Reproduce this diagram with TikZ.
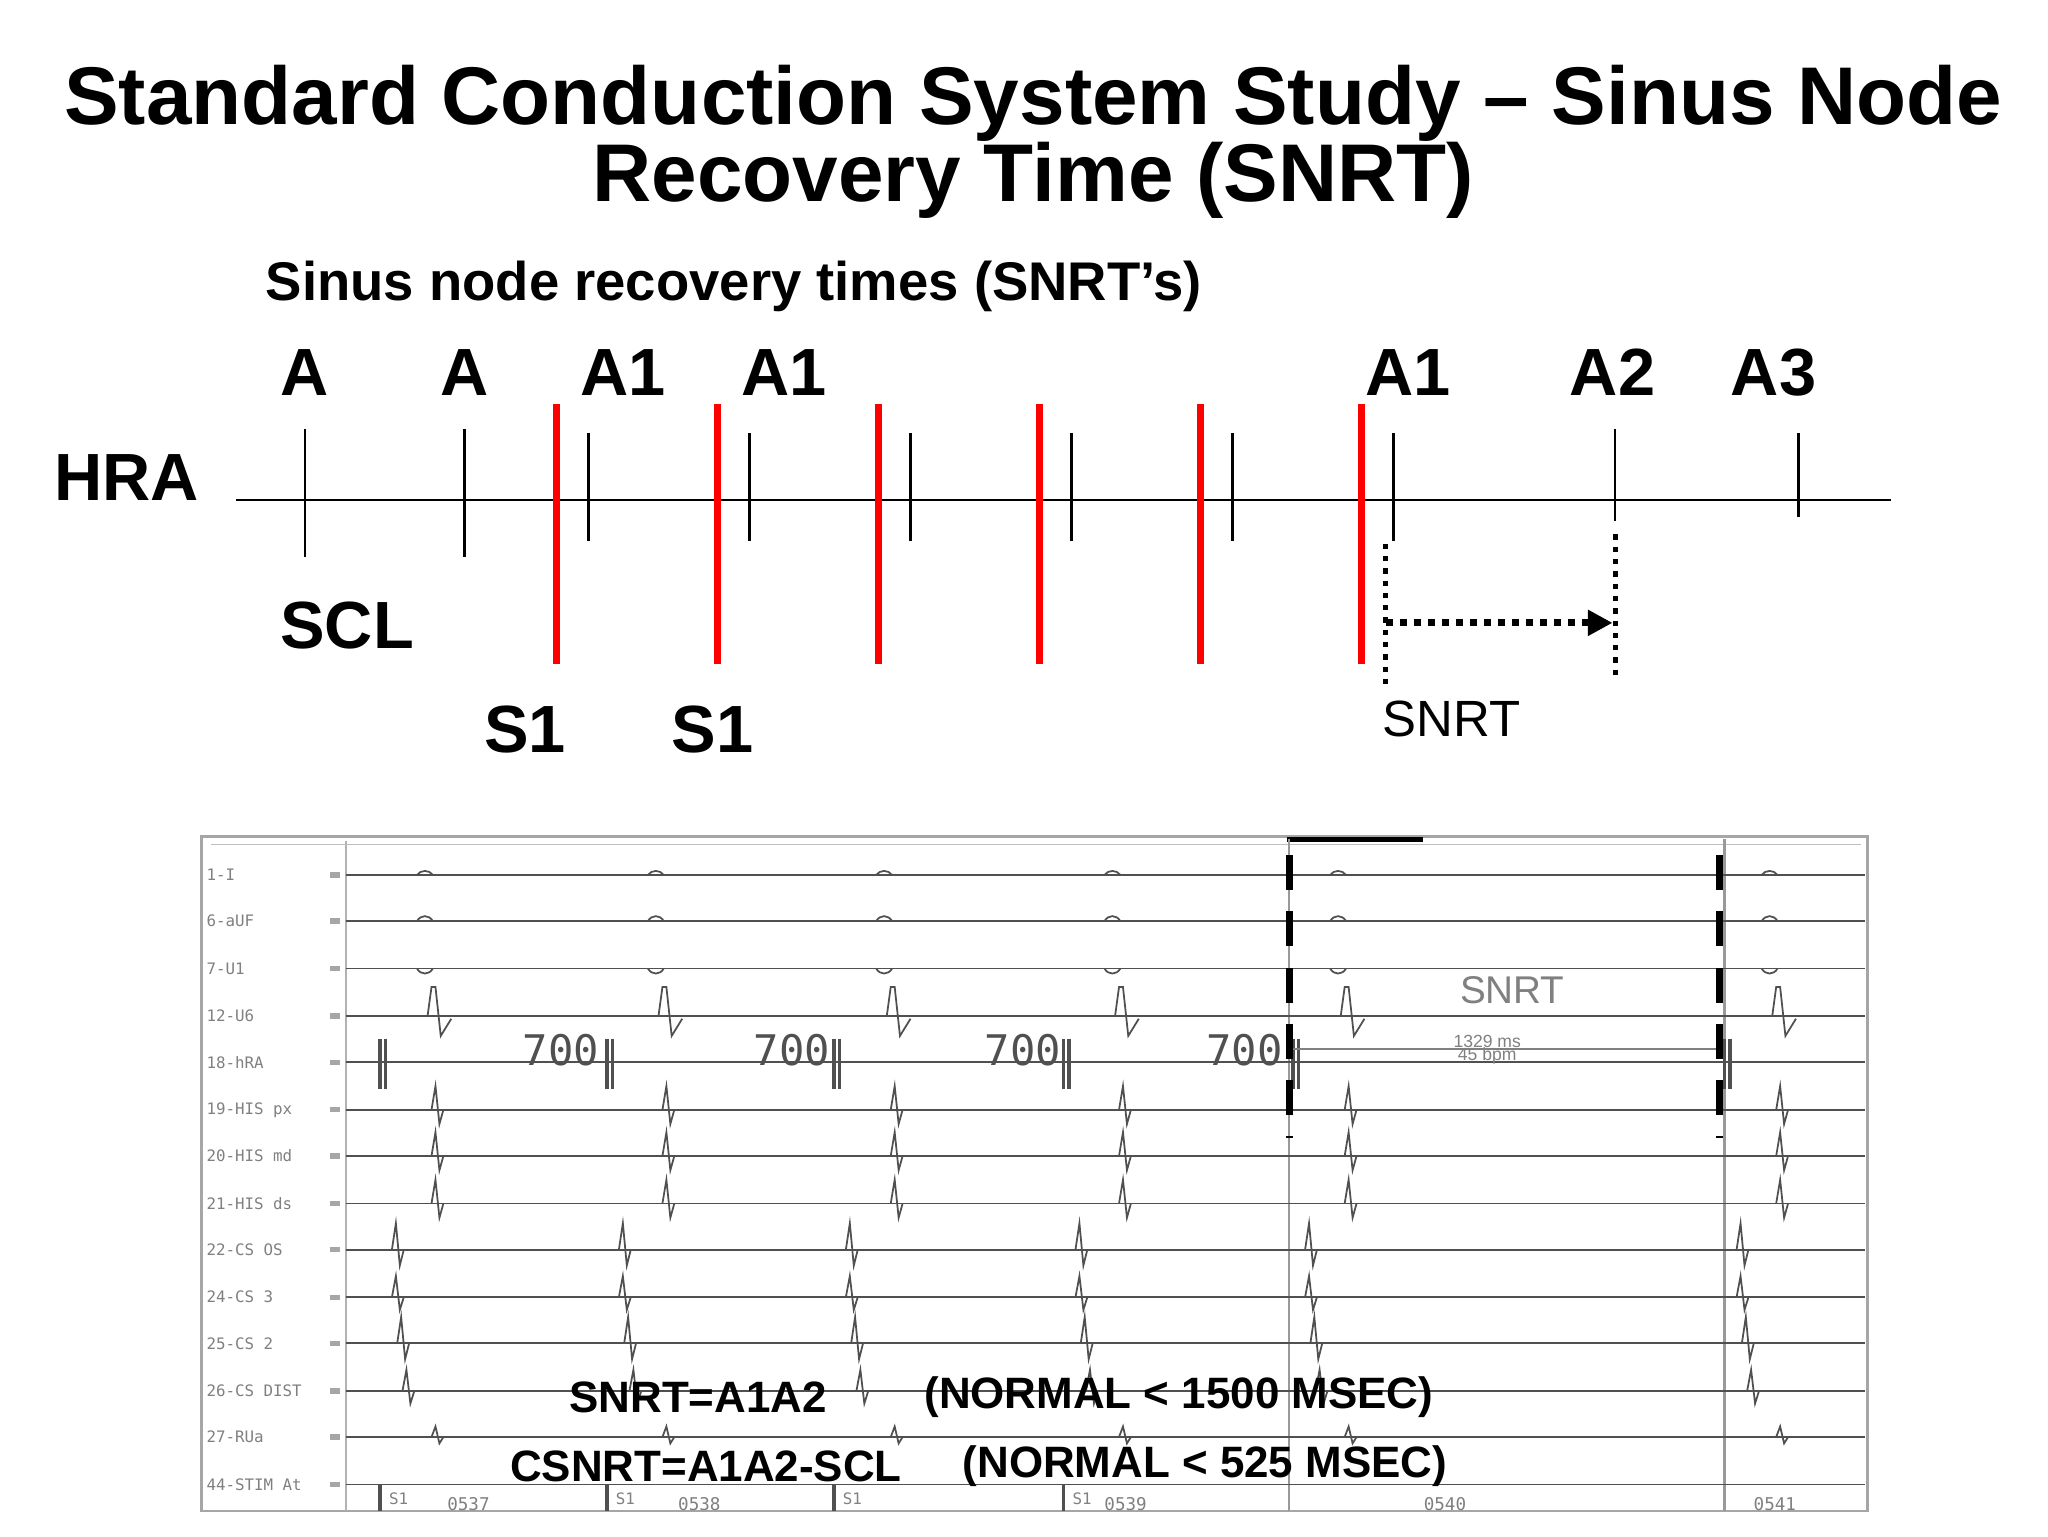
\documentclass[tikz,border=0pt]{standalone}
\usepackage{fontspec}
\setmainfont{Liberation Sans}
\setmonofont{DejaVu Sans Mono}
\usetikzlibrary{arrows.meta}
\definecolor{trc}{RGB}{80,80,80}
\tikzset{
  big/.style={font=\fontsize{23.3}{25}\selectfont\bfseries},
  lab/.style={font=\fontsize{19}{21}\selectfont\bfseries},
  redbar/.style={red,line width=2pt},
  tickln/.style={black,line width=0.7pt},
  trace/.style={trc,line width=0.5pt},
  chlab/.style={font=\ttfamily\fontsize{4.5}{5}\selectfont,text=gray,anchor=west,inner sep=0pt},
  bot/.style={font=\fontsize{12.5}{14}\selectfont\bfseries,inner sep=0pt},
  dash box/.style={black,line width=2pt,dash pattern=on 10pt off 6pt}
}
\newcommand{\spk}[3]{\draw[trace] (#1-3,#2)--(#1,#2-#3)--(#1+3,#2+0.6*#3)--(#1+6,#2);}
\newcommand{\bmp}[3]{\draw[trace] (#1-6,#2) .. controls (#1-3,#2-#3) and (#1+3,#2-#3) .. (#1+6,#2);}
\begin{document}
\begin{tikzpicture}[x=0.0132cm,y=-0.0132cm]
\useasboundingbox[fill=white] (0,0) rectangle (1552,1164);
% titles
\node[big] (t1) at (783,78) {Standard Conduction System Study – Sinus Node};
\node[big] (t2) at (783,137) {Recovery Time (SNRT)};
\node[font=\fontsize{15.5}{18}\selectfont\bfseries,anchor=west] (sub) at (192,217) {Sinus node recovery times (SNRT's)};
% HRA ladder
\node[lab] (hra) at (96,362) {HRA};
\node[lab] (scl) at (263,474) {SCL};
\node[lab] (s1a) at (398,553) {S1};
\node[lab] (s1b) at (540,553) {S1};
\node[lab] (la1) at (231,282) {A};
\node[lab] (la2) at (352,282) {A};
\node[lab] (la3) at (472,282) {A1};
\node[lab] (la4) at (594,282) {A1};
\node[lab] (la5) at (1067,282) {A1};
\node[lab] (la6) at (1222,282) {A2};
\node[lab] (la7) at (1344,282) {A3};
\coordinate (h0) at (179,379); \coordinate (h1) at (1433,379);
\draw[tickln] (h0)--(h1);
\foreach \x/\a/\b in {231/325/422,352/325/422,446/328/410,568/328/410,690/328/410,812/328/410,934/328/410,1056/328/410,1224/325/395,1363/328/392}
  \draw[tickln] (\x,\a)--(\x,\b);
\foreach \x in {422,544,666,788,910,1032}
  \draw[redbar] (\x,306)--(\x,503);
\coordinate (d1a) at (1050,412); \coordinate (d1b) at (1050,520);
\coordinate (d2a) at (1224,405); \coordinate (d2b) at (1224,512);
\draw[line width=1.5pt,dotted] (d1a)--(d1b);
\draw[line width=1.5pt,dotted] (d2a)--(d2b);
\coordinate (ar0) at (1050,472); \coordinate (ar1) at (1222,472);
\draw[line width=2pt,dotted,-{Triangle[length=7pt,width=7pt]}] (ar0)--(ar1);
\node[font=\fontsize{14.5}{17}\selectfont] (snrt) at (1100,545) {SNRT};
% ECG panel
\draw[gray!70,line width=0.8pt] (153,634) rectangle (1415,1145);
\draw[gray!60,line width=0.5pt] (262,637)--(262,1145);
\draw[gray!50,line width=0.4pt] (160,640)--(1410,640);
\draw[black,line width=1.4pt] (975,636)--(1078,636);
\foreach \x in {977,1307} \draw[gray!80,line width=0.7pt] (\x,636)--(\x,1145);
\foreach \y/\t in {663/1-I,698/6-aUF,734/7-U1,770/12-U6,805/18-hRA,841/19-HIS px,876/20-HIS md,912/21-HIS ds,947/22-CS OS,983/24-CS 3,1018/25-CS 2,1054/26-CS DIST,1089/27-RUa,1125/44-STIM At}{
  \node[chlab] at (156,\y) {\t};
  \draw[trace] (262,\y)--(1413,\y);
  \fill[gray!70] (250,\y-2) rectangle (258,\y+2);
}
% surface leads
\foreach \q in {330,505,678,851,1022,1349}{
  \bmp{\q-8}{663}{4}
  \bmp{\q-8}{698}{5}
  \bmp{\q-8}{734}{-5}
  \draw[trace] (\q-12,770)--(\q-6,770)--(\q-3,748)--(\q,748)--(\q+4,785)--(\q+12,772);
  \spk{\q}{841}{18}
  \spk{\q}{876}{18}
  \spk{\q}{912}{18}
  \spk{\q}{1089}{8}
}
\foreach \s in {288,460,632,806,980,1307}{
  \draw[trace,line width=1pt] (\s,787)--(\s,825);
  \draw[trace,line width=1pt] (\s+4,787)--(\s+4,825);
  \spk{\s+12}{947}{20}
  \spk{\s+12}{983}{16}
  \spk{\s+16}{1018}{20}
  \spk{\s+20}{1054}{16}
}
\foreach \s in {288,460,632,806}{
  \draw[trace,line width=1pt] (\s,1125)--(\s,1145);
  \node[font=\ttfamily\fontsize{4.5}{5}\selectfont,text=gray,inner sep=0pt] at (\s+14,1136) {S1};
}
\foreach \x/\t in {425/700,600/700,775/700,943/700}
  \node[font=\ttfamily\fontsize{12}{12}\selectfont,text=trc] at (\x,796) {\t};
\foreach \x/\t in {355/0537,530/0538,853/0539,1095/0540,1345/0541}
  \node[font=\ttfamily\fontsize{5}{6}\selectfont,text=gray,inner sep=0pt] at (\x,1140) {\t};
\node[font=\fontsize{11}{12}\selectfont,text=gray] (snrtb) at (1146,750) {SNRT};
\draw[gray,line width=0.5pt] (980,795)--(1305,795);
\node[font=\fontsize{5}{6}\selectfont,text=gray,inner sep=0pt] at (1127,789) {1329 ms};
\node[font=\fontsize{5}{6}\selectfont,text=gray,inner sep=0pt] at (1127,800) {45 bpm};
\foreach \x in {977,1303} \draw[dash box] (\x,648)--(\x,862);
% formulas
\node[bot] (f1) at (529,1059) {SNRT=A1A2};
\node[bot,anchor=west] (f2) at (700,1059) {(NORMAL < 1500 MSEC)};
\node[bot] (f3) at (535,1111) {CSNRT=A1A2-SCL};
\node[bot,anchor=west] (f4) at (729,1111) {(NORMAL < 525 MSEC)};
\end{tikzpicture}
\end{document}
